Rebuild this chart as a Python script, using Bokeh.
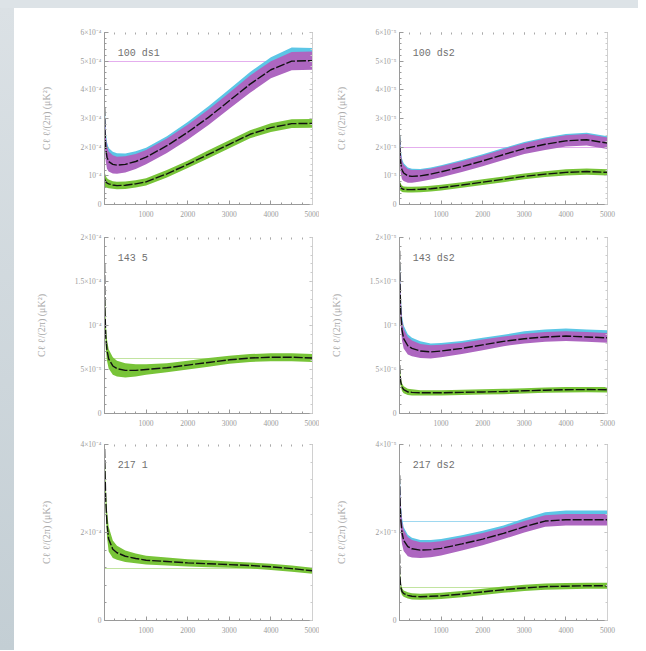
import numpy as np
from bokeh.plotting import figure
from bokeh.layouts import gridplot, column, row
from bokeh.models import Range1d, LinearAxis, SingleIntervalTicker, CustomJSTickFormatter, Label, Div
from bokeh.embed import file_html
from bokeh.resources import INLINE

# multipole values shared by all panels
ELL = [2, 10, 30, 60, 100, 200, 300, 500, 750, 1000, 1500, 2000, 2500, 3000, 3500, 4000, 4500, 5000]

# Panel "100 ds1"  (units 1e-4 muK^2)
A_MAG = [3.4, 2.6, 1.95, 1.65, 1.5, 1.4, 1.37, 1.4, 1.5, 1.65, 2.05, 2.52, 3.04, 3.62, 4.2, 4.7, 5.0, 5.02]
A_MAG_SD = [1.0, 0.6, 0.45, 0.4, 0.35, 0.32, 0.3, 0.28, 0.26, 0.25, 0.25, 0.26, 0.27, 0.28, 0.3, 0.3, 0.32, 0.32]
A_CYAN = [0.3, 0.2, 0.15, 0.12, 0.12, 0.12, 0.12, 0.1, 0.1, 0.08, 0.08, 0.1, 0.12, 0.12, 0.12, 0.14, 0.16, 0.12]
A_GRN = [0.9, 0.85, 0.8, 0.75, 0.72, 0.68, 0.66, 0.67, 0.72, 0.79, 1.07, 1.4, 1.75, 2.1, 2.45, 2.68, 2.82, 2.83]
A_GRN_SD = [0.35, 0.25, 0.2, 0.17, 0.15, 0.13, 0.13, 0.13, 0.13, 0.13, 0.13, 0.13, 0.14, 0.14, 0.14, 0.15, 0.15, 0.15]
A_REF_MAG = [5.0]

# Panel "100 ds2"  (units 1e-5)
B_MAG = [2.4, 1.9, 1.45, 1.2, 1.1, 1.0, 0.98, 1.0, 1.06, 1.14, 1.32, 1.52, 1.74, 1.95, 2.1, 2.22, 2.26, 2.14]
B_MAG_SD = [0.8, 0.5, 0.38, 0.32, 0.28, 0.24, 0.22, 0.2, 0.19, 0.19, 0.19, 0.19, 0.19, 0.19, 0.2, 0.2, 0.2, 0.2]
B_CYAN = [0.2, 0.15, 0.1, 0.08, 0.06, 0.05, 0.05, 0.04, 0.04, 0.04, 0.04, 0.04, 0.04, 0.04, 0.04, 0.04, 0.04, 0.04]
B_GRN = [0.75, 0.65, 0.6, 0.55, 0.53, 0.52, 0.52, 0.53, 0.55, 0.59, 0.68, 0.78, 0.88, 0.98, 1.06, 1.12, 1.15, 1.12]
B_GRN_SD = [0.3, 0.16, 0.12, 0.11, 0.1, 0.1, 0.1, 0.1, 0.1, 0.1, 0.1, 0.1, 0.1, 0.1, 0.1, 0.11, 0.11, 0.11]
B_REF_MAG = [2.0]

# Panel "143 5"  (units 1e-4)
C_GRN = [1.7, 1.2, 0.88, 0.72, 0.62, 0.54, 0.51, 0.49, 0.49, 0.5, 0.52, 0.55, 0.58, 0.61, 0.63, 0.64, 0.64, 0.63]
C_GRN_SD = [0.2, 0.18, 0.14, 0.12, 0.11, 0.1, 0.09, 0.08, 0.07, 0.06, 0.05, 0.05, 0.05, 0.045, 0.045, 0.045, 0.045, 0.045]
C_REF_GRN = [0.62]

# Panel "143 ds2"  (units 1e-5)
D_MAG = [1.85, 1.5, 1.15, 0.95, 0.85, 0.77, 0.74, 0.71, 0.7, 0.71, 0.74, 0.78, 0.82, 0.85, 0.87, 0.88, 0.87, 0.86]
D_MAG_SD = [0.3, 0.2, 0.15, 0.12, 0.11, 0.1, 0.09, 0.08, 0.075, 0.07, 0.065, 0.06, 0.055, 0.055, 0.055, 0.055, 0.055, 0.055]
D_CYAN = [0.05, 0.05, 0.04, 0.04, 0.04, 0.03, 0.03, 0.03, 0.02, 0.02, 0.02, 0.02, 0.02, 0.03, 0.03, 0.03, 0.03, 0.03]
D_GRN = [0.55, 0.45, 0.36, 0.3, 0.27, 0.245, 0.24, 0.235, 0.235, 0.235, 0.24, 0.245, 0.25, 0.258, 0.265, 0.27, 0.272, 0.27]
D_GRN_SD = [0.2, 0.08, 0.05, 0.045, 0.04, 0.035, 0.035, 0.03, 0.03, 0.03, 0.03, 0.03, 0.03, 0.03, 0.03, 0.03, 0.03, 0.03]

# Panel "217 1"  (units 1e-4)
E_GRN = [3.9, 3.5, 2.75, 2.2, 1.85, 1.62, 1.54, 1.46, 1.41, 1.37, 1.34, 1.31, 1.29, 1.27, 1.25, 1.22, 1.18, 1.13]
E_GRN_SD = [0.15, 0.2, 0.3, 0.3, 0.28, 0.2, 0.16, 0.13, 0.11, 0.1, 0.09, 0.08, 0.08, 0.07, 0.07, 0.07, 0.07, 0.07]
E_REF_GRN = [1.19]

# Panel "217 ds2"  (units 1e-5)
F_MAG = [3.3, 2.8, 2.3, 2.0, 1.82, 1.68, 1.63, 1.6, 1.61, 1.64, 1.74, 1.85, 1.98, 2.13, 2.26, 2.29, 2.29, 2.29]
F_MAG_SD = [0.5, 0.4, 0.3, 0.26, 0.24, 0.22, 0.2, 0.18, 0.17, 0.16, 0.15, 0.14, 0.13, 0.13, 0.13, 0.13, 0.13, 0.13]
F_CYAN = [0.1, 0.1, 0.08, 0.08, 0.06, 0.05, 0.05, 0.05, 0.05, 0.05, 0.05, 0.05, 0.05, 0.06, 0.07, 0.08, 0.08, 0.08]
F_GRN = [1.5, 1.0, 0.76, 0.66, 0.61, 0.57, 0.55, 0.54, 0.55, 0.56, 0.6, 0.65, 0.7, 0.74, 0.77, 0.78, 0.79, 0.79]
F_GRN_SD = [0.4, 0.15, 0.1, 0.08, 0.07, 0.07, 0.07, 0.07, 0.07, 0.07, 0.07, 0.07, 0.07, 0.07, 0.07, 0.07, 0.07, 0.07]
F_REF_CYAN = [2.26]
F_REF_GRN = [0.74]

TAGS = ["100 ds1", "100 ds2", "143 5", "143 ds2", "217 1", "217 ds2"]
Y_MAX = [6, 6, 2, 2, 4, 4]
Y_STEP = [1, 1, 0.5, 0.5, 2, 2]
Y_EXP = [-4, -5, -4, -5, -4, -5]
X_TICKS_STEP = 1000
Y_LABEL = "Cℓ ℓ/(2π) (μK²)"

MAG = "#ad66c0"
CYAN = "#5cc6e6"
GRN = "#78c438"
TXT = "#9a9a9a"
AX = "#9a9a9a"

YFMT = """
const sup = {"-":"\u207b","0":"\u2070","1":"\u00b9","2":"\u00b2","3":"\u00b3","4":"\u2074","5":"\u2075","6":"\u2076","7":"\u2077","8":"\u2078","9":"\u2079"};
function p10(e) { return "10" + String(e).split("").map(c => sup[c]).join(""); }
if (Math.abs(tick) < 1e-9) return "0";
let v = tick, e = ex;
if (v < 1 - 1e-9) { v = v * 10; e = e - 1; }
if (Math.abs(v - 1) < 1e-9) return p10(e);
return (Math.round(v * 10) / 10) + "\u00d7" + p10(e);
"""
XFMT = 'return Math.abs(tick) < 1e-9 ? "" : tick.toFixed(0);'
BLANK = 'return "";'


def make_panel(idx, width, height, bl, br, bt, bb, mag=None, mag_sd=None, cyan=None,
               grn=None, grn_sd=None, ref_mag=None, ref_cyan=None, ref_grn=None):
    ell = np.array(ELL, dtype=float)
    p = figure(width=width, height=height, x_range=Range1d(0, 5000), y_range=Range1d(0, Y_MAX[idx]),
               output_backend="svg", toolbar_location=None,
               min_border_left=bl, min_border_right=br, min_border_top=bt, min_border_bottom=bb)
    p.xgrid.visible = False
    p.ygrid.visible = False
    p.outline_line_color = None

    # reference levels (drawn beneath the data)
    if ref_mag:
        p.hspan(y=ref_mag, line_color="#e4aeee", line_width=1)
    if ref_cyan:
        p.hspan(y=ref_cyan, line_color="#9ed8f0", line_width=1)
    if ref_grn:
        p.hspan(y=ref_grn, line_color="#c2e4a0", line_width=1)

    if mag is not None:
        m = np.array(mag); s = np.array(mag_sd); c = np.array(cyan)
        p.varea(x=ell, y1=m, y2=m + s + c, fill_color=CYAN, fill_alpha=1.0)
        p.varea(x=ell, y1=m - s, y2=m + s, fill_color=MAG, fill_alpha=1.0)
    if grn is not None:
        g = np.array(grn); gs = np.array(grn_sd)
        p.varea(x=ell, y1=g - gs, y2=g + gs, fill_color=GRN, fill_alpha=1.0)
    if mag is not None:
        p.line(x=ell, y=mag, line_color="#111111", line_width=1.4, line_dash="9 2")
    if grn is not None:
        p.line(x=ell, y=grn, line_color="#111111", line_width=1.4, line_dash="9 2")

    # bottom axis
    xa = p.xaxis[0]
    xa.ticker = SingleIntervalTicker(interval=X_TICKS_STEP, num_minor_ticks=4)
    xa.formatter = CustomJSTickFormatter(code=XFMT)
    # left axis
    ya = p.yaxis[0]
    ya.ticker = SingleIntervalTicker(interval=Y_STEP[idx], num_minor_ticks=5)
    ya.formatter = CustomJSTickFormatter(args=dict(ex=Y_EXP[idx]), code=YFMT)
    ya.axis_label = Y_LABEL
    ya.axis_label_text_font = "Liberation Serif"
    ya.axis_label_text_font_style = "normal"
    ya.axis_label_text_font_size = "10px"
    ya.axis_label_text_color = "#aaaaaa"
    ya.axis_label_standoff = 25
    for a in (xa, ya):
        a.axis_line_color = AX
        a.major_tick_in = 4
        a.major_tick_out = 0
        a.minor_tick_in = 2
        a.minor_tick_out = 0
        a.major_tick_line_color = AX
        a.minor_tick_line_color = AX
        a.major_label_text_font = "Liberation Serif"
        a.major_label_text_font_size = "7.5px"
        a.major_label_text_color = TXT
    xa.major_label_standoff = 6
    ya.major_label_standoff = 3

    top = LinearAxis(ticker=SingleIntervalTicker(interval=X_TICKS_STEP, num_minor_ticks=4),
                     formatter=CustomJSTickFormatter(code=BLANK),
                     axis_line_color=None, major_tick_in=2, major_tick_out=0, minor_tick_in=2,
                     minor_tick_out=0, major_tick_line_color="#aaaaaa", minor_tick_line_color="#aaaaaa",
                     major_label_standoff=0)
    p.add_layout(top, "above")
    right = LinearAxis(ticker=SingleIntervalTicker(interval=Y_STEP[idx], num_minor_ticks=5),
                       formatter=CustomJSTickFormatter(code=BLANK),
                       axis_line_color="#d0d0d0", major_tick_in=3, major_tick_out=0, minor_tick_in=2,
                       minor_tick_out=0, major_tick_line_color="#bbbbbb", minor_tick_line_color="#cccccc",
                       major_label_standoff=0)
    p.add_layout(right, "right")

    p.add_layout(Label(x=320, y=Y_MAX[idx] * 0.88, text=TAGS[idx], text_font="Liberation Mono",
                       text_font_size="10px", text_color="#707070", text_baseline="middle"))
    return p


LW, RW = 305, 319

pA = make_panel(0, LW, 218, 90, 7, 24, 22, mag=A_MAG, mag_sd=A_MAG_SD, cyan=A_CYAN,
                grn=A_GRN, grn_sd=A_GRN_SD, ref_mag=A_REF_MAG)
pB = make_panel(1, RW, 218, 80, 31, 24, 22, mag=B_MAG, mag_sd=B_MAG_SD, cyan=B_CYAN,
                grn=B_GRN, grn_sd=B_GRN_SD, ref_mag=B_REF_MAG)
pC = make_panel(2, LW, 209, 90, 7, 11, 22, grn=C_GRN, grn_sd=C_GRN_SD, ref_grn=C_REF_GRN)
pD = make_panel(3, RW, 209, 80, 31, 11, 22, mag=D_MAG, mag_sd=D_MAG_SD, cyan=D_CYAN,
                grn=D_GRN, grn_sd=D_GRN_SD)
pE = make_panel(4, LW, 207, 90, 7, 9, 22, grn=E_GRN, grn_sd=E_GRN_SD, ref_grn=E_REF_GRN)
pF = make_panel(5, RW, 207, 80, 31, 9, 22, mag=F_MAG, mag_sd=F_MAG_SD, cyan=F_CYAN,
                grn=F_GRN, grn_sd=F_GRN_SD, ref_cyan=F_REF_CYAN, ref_grn=F_REF_GRN)

grid = gridplot([[pA, pB], [pC, pD], [pE, pF]], toolbar_location=None)

top_strip = Div(text="", width=638, height=8, margin=0,
                styles={"background": "#dde3e7", "width": "638px", "height": "8px"})
left_strip = Div(text="", width=14, height=642, margin=0,
                 styles={"background": "linear-gradient(#dbe1e5, #c3ced4)", "width": "14px", "height": "642px"})
page = column(top_strip, row(left_strip, grid, spacing=0), spacing=0)

open("out.html", "w").write(file_html(page, INLINE))
